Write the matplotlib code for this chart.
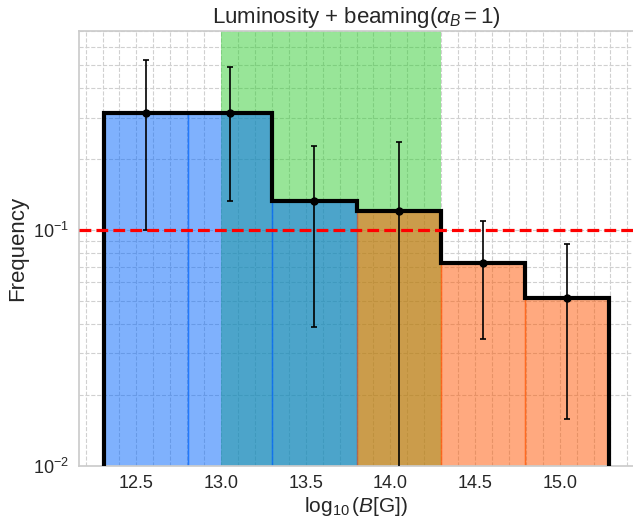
import numpy as np
import matplotlib
matplotlib.use('Agg')
from matplotlib import pyplot as plt
from matplotlib.ticker import AutoMinorLocator

# datos
bin_edges = np.linspace(12.31, 15.29, 7)
freq = [0.313, 0.314, 0.1327, 0.1204, 0.0722, 0.0516]
err_top = [0.526, 0.490, 0.227, 0.237, 0.1095, 0.0875]
err_bot = [0.100, 0.1327, 0.0389, 0.0, 0.0344, 0.0158]
span = [13.0, 14.3]
linea_ref = 0.1

plt.rcParams['font.family'] = ['Liberation Sans', 'DejaVu Sans']
plt.rcParams['mathtext.fontset'] = 'custom'
plt.rcParams['mathtext.rm'] = 'Liberation Sans'
plt.rcParams['mathtext.it'] = 'Liberation Sans:italic'

centros = 0.5 * (bin_edges[:-1] + bin_edges[1:])
ancho = np.diff(bin_edges)
freq = np.array(freq)
yerr = [freq - np.array(err_bot), np.array(err_top) - freq]

fig = plt.figure(figsize=(6.33, 5.17), dpi=100)
ax = fig.add_axes([79/633, (517-465.7)/517, (634-79)/633, (465.7-31)/517])
ax.set_yscale('log')

ax.axvspan(span[0], span[1], color='limegreen', alpha=0.5, lw=0, zorder=1)

azul = '#0165fc'
naranja = '#ff5500'
ax.bar(centros[:3], freq[:3], width=ancho[:3], color=azul, edgecolor=azul,
       lw=1, alpha=0.5, zorder=2)
ax.bar(centros[3:], freq[3:], width=ancho[3:], color=naranja, edgecolor=naranja,
       lw=1, alpha=0.5, zorder=2)
ax.stairs(freq, bin_edges, color='k', lw=3, baseline=0, zorder=3)

ax.errorbar(centros, freq, yerr=yerr, fmt='o', color='k', ms=5, capsize=2.5,
            elinewidth=1.2, capthick=1.2, zorder=4)

ax.axhline(linea_ref, color='red', ls='--', lw=2.3, zorder=5)

ax.set_ylim(0.01, 0.7)
ax.xaxis.set_minor_locator(AutoMinorLocator(5))
ax.set_axisbelow(True)
ax.grid(which='both', ls='--', color='#d0d0d0', lw=0.8)
for s in ax.spines.values():
    s.set_color('#cccccc')
    s.set_linewidth(1.25)
ax.tick_params(which='both', length=0, labelsize=13, colors='#262626', pad=7)

ax.set_title(r'Luminosity + beaming($\alpha_B=1$)', fontsize=16, color='#262626')
ax.set_xlabel(r'$\log_{10}(B[\mathrm{G}])$', fontsize=15, color='#262626',
              labelpad=2)
ax.set_ylabel('Frequency', fontsize=16, color='#262626')

fig.savefig('out.png', dpi=100)
